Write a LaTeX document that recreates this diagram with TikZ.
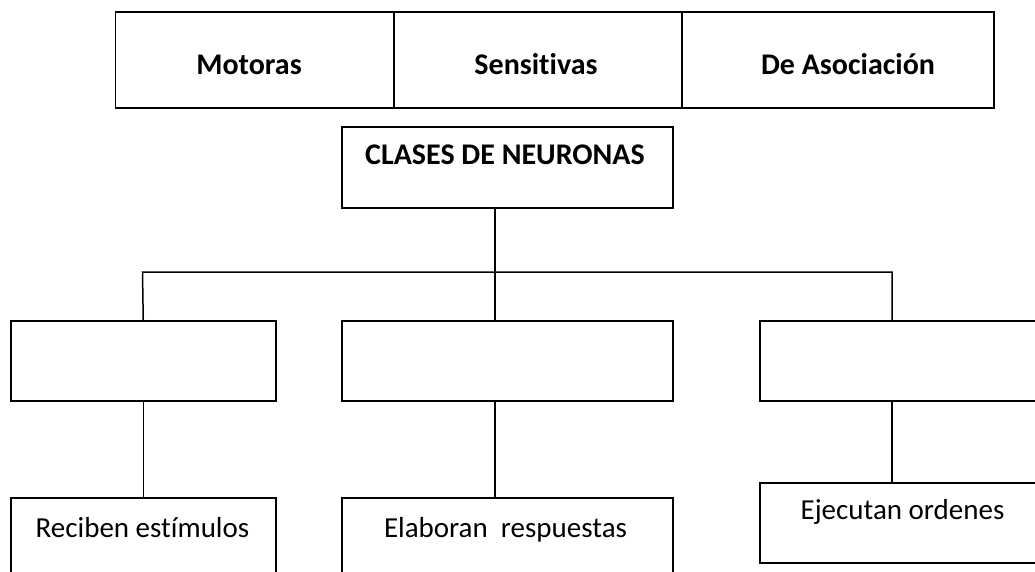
\documentclass[tikz,border=0pt]{standalone}
\usepackage{fontspec}
\setmainfont{Carlito}[Ligatures=NoCommon]
\begin{document}
\begin{tikzpicture}[x=1pt,y=-1pt,
  box/.style={draw=black,line width=1.5pt,anchor=north west,inner sep=0pt,minimum width=#1},
  txt/.style={anchor=base,inner sep=0pt,font=\fontsize{29}{35}\selectfont},
  btxt/.style={anchor=base,inner sep=0pt,font=\fontsize{30}{36}\selectfont\bfseries},
  conn/.style={draw=black,line width=1.5pt}]
\useasboundingbox (0,0) rectangle (1035,571);
\clip (0,0) rectangle (1035,571);
% top table
\node[box=278.5pt,minimum height=96pt] (m1) at (114.5,11) {};
\node[box=288pt,minimum height=96pt] (m2) at (393,11) {};
\node[box=312pt,minimum height=96pt] (m3) at (681,11) {};
\node[btxt] (tm1) at (249,74) {Motoras};
\node[btxt] (tm2) at (536,74) {Sensit\kern0pt ivas};
\node[btxt] (tm3) at (848,74) {De Asociación};
% root
\node[box=331pt,minimum height=81pt] (clases) at (341,126) {};
\node[btxt] (tclases) at (505,164) {CLASES DE NEURONAS};
% middle row
\node[box=265pt,minimum height=80pt] (b1) at (10,320) {};
\node[box=331pt,minimum height=80pt] (b2) at (341,320) {};
\node[box=300pt,minimum height=80pt] (b3) at (759,320) {};
% bottom row
\node[box=265pt,minimum height=95pt] (c1) at (10,497) {};
\node[box=331pt,minimum height=95pt] (c2) at (341,497) {};
\node[box=300pt,minimum height=80pt] (c3) at (759,482) {};
\node[txt] (tc1) at (142.5,537) {Reciben est\kern0pt ímulos};
\node[txt] (tc2) at (505.5,537) {Elaboran\ \ respuestas};
\node[txt] (tc3) at (902.5,519) {Ejecutan ordenes};
% connectors
\coordinate (j) at (495,272);
\coordinate (hL) at (142.5,272);
\coordinate (hR) at (892,272);
\draw[conn] (j |- clases.south) -- (j);
\draw[conn] (b1.north) -- (hL) -- (hR) -- (hR |- b3.north);
\draw[conn] (j) -- (j |- b2.north);
\draw[conn] (b1.south) -- (c1.north);
\draw[conn] (j |- b2.south) -- (j |- c2.north);
\draw[conn] (hR |- b3.south) -- (hR |- c3.north);
\end{tikzpicture}
\end{document}
